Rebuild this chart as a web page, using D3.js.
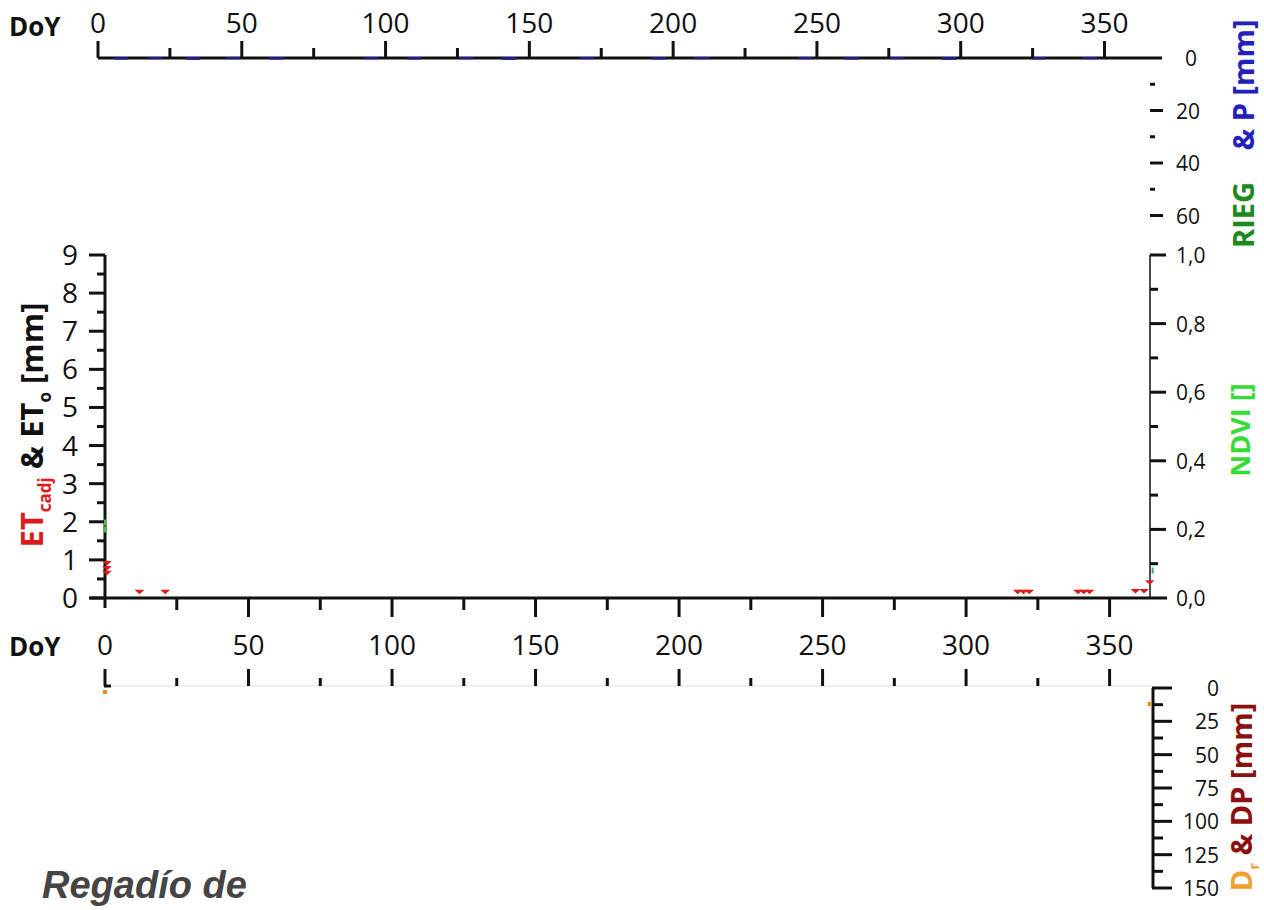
<!DOCTYPE html>
<html>
<head>
<meta charset="utf-8">
<script src="https://cdn.jsdelivr.net/npm/d3@7"></script>
<style>
  body { margin: 0; background: #fff; }
  text { font-family: "Open Sans", "Liberation Sans", sans-serif; }
</style>
</head>
<body>
<svg id="drawing_region"></svg>
<script>
// day of year ticks
const doyTicks = [0, 50, 100, 150, 200, 250, 300, 350];
const doyMinor = [25, 75, 125, 175, 225, 275, 325];

// top panel: RIEG & P [mm] (downward)
const pTicks = [0, 20, 40, 60];
const pMinor = [10, 30, 50];
const pDays = [8, 20, 33, 47, 62, 95, 110, 128, 143, 170, 195, 210, 246, 262, 278, 296, 327, 345];
const pValues = [0.4, 0.3, 0.5, 0.3, 0.4, 0.3, 0.4, 0.3, 0.5, 0.3, 0.4, 0.3, 0.3, 0.4, 0.3, 0.5, 0.4, 0.3];

// middle panel: ETcadj & ETo [mm], NDVI []
const etTicks = [0, 1, 2, 3, 4, 5, 6, 7, 8, 9];
const etMinor = [0.5, 1.5, 2.5, 3.5, 4.5, 5.5, 6.5, 7.5, 8.5];
const ndviTicks = [0, 0.2, 0.4, 0.6, 0.8, 1.0];
const ndviMinor = [0.1, 0.3, 0.5, 0.7, 0.9];
const etDays = [0, 0, 0, 12, 21, 318, 320, 322, 339, 341, 343, 359, 362, 364];
const etValues = [0.85, 0.72, 0.6, 0.1, 0.1, 0.1, 0.1, 0.1, 0.1, 0.1, 0.1, 0.12, 0.12, 0.35];
const ndviDays = [0, 0, 365];
const ndviValues = [0.22, 0.2, 0.08];

// bottom panel: Dr & DP [mm] (downward)
const drTicks = [0, 25, 50, 75, 100, 125, 150];
const drMinor = [12.5, 37.5, 62.5, 87.5, 112.5, 137.5];
const drDays = [0, 364];
const drValues = [3, 12];

const W = 1264, H = 910;
const svg = d3.select('#drawing_region').attr('width', W).attr('height', H);

const black = '#111';
const fmtComma = d => d3.format('.1f')(d).replace('.', ',');

// ---------- top panel ----------
const xTop = d3.scaleLinear().domain([0, 370]).range([98, 1162]);
const yP = d3.scaleLinear().domain([0, 60]).range([58, 215.5]);

svg.append('line')
  .attr('x1', xTop(0)).attr('x2', xTop(370))
  .attr('y1', yP(0)).attr('y2', yP(0))
  .attr('stroke', black).attr('stroke-width', 3);

svg.selectAll('.ptbar').data(pDays).join('rect')
  .attr('x', d => xTop(d) - 7).attr('width', 14)
  .attr('y', yP(0) - 1)
  .attr('height', (d, i) => yP(pValues[i]) - yP(0) + 1.5)
  .attr('fill', '#1c1c8c');

svg.selectAll('.topMaj').data(doyTicks).join('line')
  .attr('x1', d => xTop(d)).attr('x2', d => xTop(d))
  .attr('y1', 41).attr('y2', yP(0))
  .attr('stroke', black).attr('stroke-width', 3);
svg.selectAll('.topMin').data(doyMinor).join('line')
  .attr('x1', d => xTop(d)).attr('x2', d => xTop(d))
  .attr('y1', 48).attr('y2', yP(0))
  .attr('stroke', black).attr('stroke-width', 3);
svg.selectAll('.topLab').data(doyTicks).join('text')
  .attr('x', d => xTop(d)).attr('y', 33)
  .attr('text-anchor', 'middle').attr('font-size', 28).attr('fill', black)
  .text(d => d);
svg.append('text').attr('x', 9).attr('y', 36)
  .attr('font-size', 26).attr('font-weight', 'bold').attr('fill', black).text('DoY');

svg.selectAll('.pMaj').data(pTicks.slice(1)).join('line')
  .attr('x1', 1150).attr('x2', 1163)
  .attr('y1', d => yP(d)).attr('y2', d => yP(d))
  .attr('stroke', black).attr('stroke-width', 3);
svg.selectAll('.pMin').data(pMinor).join('line')
  .attr('x1', 1150).attr('x2', 1155)
  .attr('y1', d => yP(d)).attr('y2', d => yP(d))
  .attr('stroke', black).attr('stroke-width', 3);
svg.selectAll('.pLab').data(pTicks).join('text')
  .attr('x', d => d === 0 ? 1185 : 1176).attr('y', d => yP(d) + 8)
  .attr('font-size', 21).attr('fill', black).text(d => d);

svg.append('text')
  .attr('transform', 'translate(1254,215) rotate(-90)')
  .attr('text-anchor', 'middle').attr('font-size', 29).attr('font-weight', 'bold')
  .attr('fill', '#1a8a1a').text('RIEG');
svg.append('text')
  .attr('transform', 'translate(1254,85) rotate(-90)')
  .attr('text-anchor', 'middle').attr('font-size', 29).attr('font-weight', 'bold')
  .attr('fill', '#2222bb').text('& P [mm]');

// ---------- middle panel ----------
const xMid = d3.scaleLinear().domain([0, 370]).range([105, 1167]);
const yET = d3.scaleLinear().domain([0, 9]).range([598, 255]);
const yN = d3.scaleLinear().domain([0, 1]).range([598, 255]);

svg.append('line')
  .attr('x1', 90).attr('x2', xMid(370))
  .attr('y1', yET(0)).attr('y2', yET(0))
  .attr('stroke', black).attr('stroke-width', 3);
svg.append('line')
  .attr('x1', xMid(0)).attr('x2', xMid(0))
  .attr('y1', yET(9)).attr('y2', 608)
  .attr('stroke', black).attr('stroke-width', 3);
svg.append('line')
  .attr('x1', 1150).attr('x2', 1150)
  .attr('y1', yN(1)).attr('y2', yN(0))
  .attr('stroke', black).attr('stroke-width', 1.5);

svg.selectAll('.etMaj').data(etTicks).join('line')
  .attr('x1', 89).attr('x2', xMid(0))
  .attr('y1', d => yET(d)).attr('y2', d => yET(d))
  .attr('stroke', black).attr('stroke-width', 3);
svg.selectAll('.etMin').data(etMinor).join('line')
  .attr('x1', 97).attr('x2', xMid(0))
  .attr('y1', d => yET(d)).attr('y2', d => yET(d))
  .attr('stroke', black).attr('stroke-width', 3);
svg.selectAll('.etLab').data(etTicks).join('text')
  .attr('x', 70).attr('y', d => yET(d) + 10)
  .attr('text-anchor', 'middle').attr('font-size', 28).attr('fill', black)
  .text(d => d);

svg.selectAll('.nMaj').data(ndviTicks.slice(1)).join('line')
  .attr('x1', 1150).attr('x2', 1166)
  .attr('y1', d => yN(d)).attr('y2', d => yN(d))
  .attr('stroke', black).attr('stroke-width', 3);
svg.selectAll('.nMin').data(ndviMinor).join('line')
  .attr('x1', 1150).attr('x2', 1158)
  .attr('y1', d => yN(d)).attr('y2', d => yN(d))
  .attr('stroke', black).attr('stroke-width', 3);
svg.selectAll('.nLab').data(ndviTicks).join('text')
  .attr('x', 1176).attr('y', d => yN(d) + 8)
  .attr('font-size', 21).attr('fill', black).text(fmtComma);

svg.selectAll('.midMaj').data(doyTicks.slice(1)).join('line')
  .attr('x1', d => xMid(d)).attr('x2', d => xMid(d))
  .attr('y1', yET(0)).attr('y2', 617)
  .attr('stroke', black).attr('stroke-width', 3);
svg.selectAll('.midMin').data(doyMinor).join('line')
  .attr('x1', d => xMid(d)).attr('x2', d => xMid(d))
  .attr('y1', yET(0)).attr('y2', 610)
  .attr('stroke', black).attr('stroke-width', 3);
svg.selectAll('.midLab').data(doyTicks).join('text')
  .attr('x', d => xMid(d)).attr('y', 655)
  .attr('text-anchor', 'middle').attr('font-size', 28).attr('fill', black)
  .text(d => d);
svg.append('text').attr('x', 9).attr('y', 656)
  .attr('font-size', 26).attr('font-weight', 'bold').attr('fill', black).text('DoY');

const tri = d3.symbol().type(d3.symbolTriangle).size(24);
svg.selectAll('.et').data(etDays).join('path')
  .attr('d', tri)
  .attr('transform', (d, i) => `translate(${xMid(d) + (d === 0 ? 2 : 0)},${yET(etValues[i]) - 3}) rotate(180) scale(1.3,0.7)`)
  .attr('fill', '#dd1a1a');
svg.selectAll('.ndvi').data(ndviDays).join('rect')
  .attr('x', d => xMid(d) - 1).attr('width', 2)
  .attr('y', (d, i) => yN(ndviValues[i]) - 3).attr('height', 6)
  .attr('fill', (d, i) => i < 2 ? '#33cc33' : '#33aa99');

const et = svg.append('text')
  .attr('transform', 'translate(43,425) rotate(-90)')
  .attr('text-anchor', 'middle').attr('font-size', 31).attr('font-weight', 'bold').attr('fill', black);
et.append('tspan').attr('fill', '#dd1a1a').text('ET');
et.append('tspan').attr('fill', '#dd1a1a').attr('font-size', 17).attr('dy', 8).text('cadj');
et.append('tspan').attr('dy', -8).text(' & ET');
et.append('tspan').attr('font-size', 17).attr('dy', 8).text('o');
et.append('tspan').attr('dy', -8).text(' [mm]');

svg.append('text')
  .attr('transform', 'translate(1250,430) rotate(-90)')
  .attr('text-anchor', 'middle').attr('font-size', 27).attr('font-weight', 'bold')
  .attr('fill', '#33dd33').text('NDVI []');

// ---------- bottom panel ----------
const xBot = d3.scaleLinear().domain([0, 370]).range([105, 1167]);
const yD = d3.scaleLinear().domain([0, 150]).range([688, 888]);

svg.append('line')
  .attr('x1', xBot(0)).attr('x2', 1153)
  .attr('y1', 686).attr('y2', 686)
  .attr('stroke', '#ddd').attr('stroke-width', 1);
svg.selectAll('.botMaj').data(doyTicks).join('line')
  .attr('x1', d => xBot(d)).attr('x2', d => xBot(d))
  .attr('y1', 669).attr('y2', 686)
  .attr('stroke', black).attr('stroke-width', 3);
svg.selectAll('.botMin').data(doyMinor).join('line')
  .attr('x1', d => xBot(d)).attr('x2', d => xBot(d))
  .attr('y1', 678).attr('y2', 686)
  .attr('stroke', black).attr('stroke-width', 3);
svg.append('line')
  .attr('x1', xBot(0) - 1).attr('x2', xBot(0) + 6)
  .attr('y1', 686).attr('y2', 686)
  .attr('stroke', black).attr('stroke-width', 3);

svg.append('line')
  .attr('x1', 1153).attr('x2', 1153)
  .attr('y1', yD(0)).attr('y2', yD(150))
  .attr('stroke', black).attr('stroke-width', 3);
svg.selectAll('.dMaj').data(drTicks).join('line')
  .attr('x1', 1152).attr('x2', 1172)
  .attr('y1', d => yD(d)).attr('y2', d => yD(d))
  .attr('stroke', black).attr('stroke-width', 3);
svg.selectAll('.dMin').data(drMinor).join('line')
  .attr('x1', 1152).attr('x2', 1163)
  .attr('y1', d => yD(d)).attr('y2', d => yD(d))
  .attr('stroke', black).attr('stroke-width', 3);
svg.selectAll('.dLab').data(drTicks).join('text')
  .attr('x', 1219).attr('y', d => yD(d) + 8)
  .attr('text-anchor', 'end').attr('font-size', 21).attr('fill', black).text(d => d);

svg.selectAll('.dr').data(drDays).join('rect')
  .attr('x', d => xBot(d) - 2).attr('width', 4)
  .attr('y', (d, i) => yD(drValues[i]) - 2).attr('height', 4)
  .attr('fill', '#e8892a');

const dr = svg.append('text')
  .attr('transform', 'translate(1252,797) rotate(-90)')
  .attr('text-anchor', 'middle').attr('font-size', 29).attr('font-weight', 'bold');
dr.append('tspan').attr('fill', '#f0a030').text('D');
dr.append('tspan').attr('fill', '#f0a030').attr('font-size', 15).attr('dy', 7).text('r');
dr.append('tspan').attr('fill', '#8b1010').attr('dy', -7).text(' & DP [mm]');

svg.append('text').attr('x', 42).attr('y', 898)
  .style('font-family', '"Liberation Sans", Arial, sans-serif')
  .attr('font-size', 38).attr('font-weight', 'bold').attr('font-style', 'italic')
  .attr('fill', '#454545').text('Regadío de');
</script>
</body>
</html>
